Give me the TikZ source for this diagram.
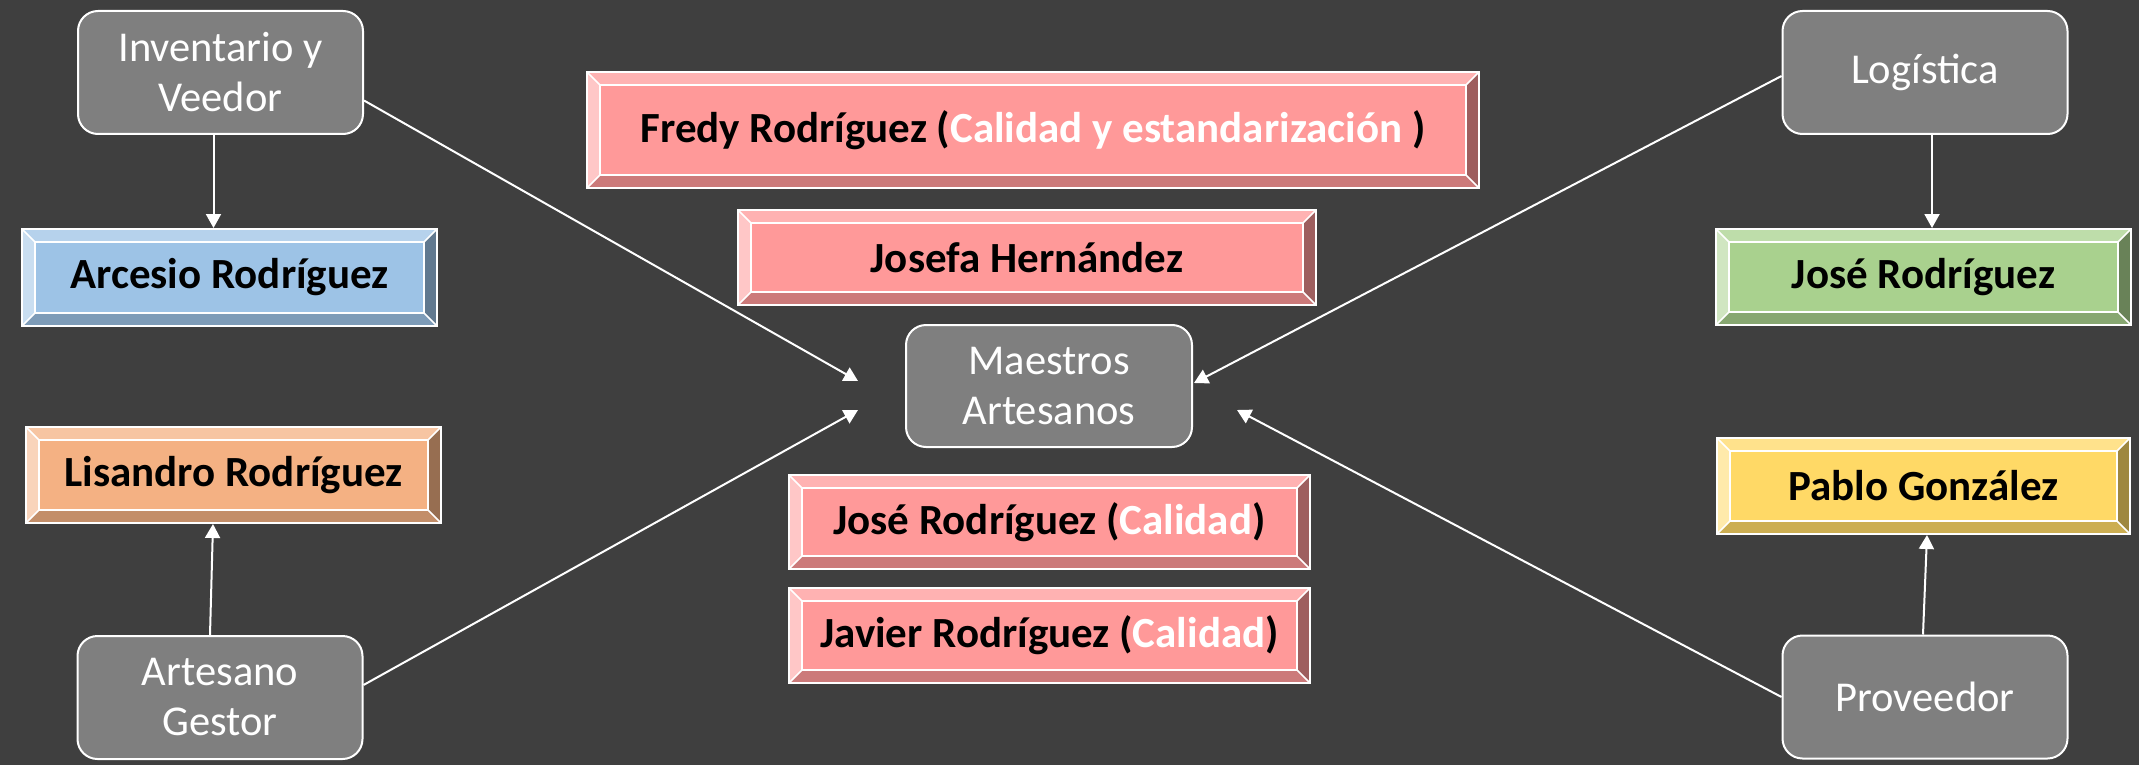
\documentclass[tikz,border=0pt]{standalone}
\usepackage{fontspec}
\setmainfont{Carlito}
\usetikzlibrary{arrows.meta,calc}
\definecolor{bgc}{HTML}{3F3F3F}
\definecolor{grayc}{HTML}{7F7F7F}
\definecolor{pinkc}{HTML}{FF9999}
\definecolor{bluec}{HTML}{9DC3E6}
\definecolor{orangec}{HTML}{F4B183}
\definecolor{greenc}{HTML}{A9D18E}
\definecolor{yellowc}{HTML}{FFD966}
\tikzset{
  graybox/.style={draw=white, line width=2pt, fill=grayc, rounded corners=20pt,
    minimum width=285pt, minimum height=123pt, align=center, text=white,
    font=\fontsize{42.5}{50}\selectfont},
  bev/.style={draw=white, line width=2pt, fill=#1, inner sep=0pt,
    font=\fontsize{43}{50}\selectfont\bfseries,
    path picture={
      \fill[#1!75!white] (path picture bounding box.north west) -- (path picture bounding box.north east)
        -- ([shift={(-13pt,-13pt)}]path picture bounding box.north east)
        -- ([shift={(13pt,-13pt)}]path picture bounding box.north west) -- cycle;
      \fill[#1!55!white] (path picture bounding box.north west) -- (path picture bounding box.south west)
        -- ([shift={(13pt,13pt)}]path picture bounding box.south west)
        -- ([shift={(13pt,-13pt)}]path picture bounding box.north west) -- cycle;
      \fill[#1!62!black] (path picture bounding box.north east) -- (path picture bounding box.south east)
        -- ([shift={(-13pt,13pt)}]path picture bounding box.south east)
        -- ([shift={(-13pt,-13pt)}]path picture bounding box.north east) -- cycle;
      \fill[#1!80!black] (path picture bounding box.south west) -- (path picture bounding box.south east)
        -- ([shift={(-13pt,13pt)}]path picture bounding box.south east)
        -- ([shift={(13pt,13pt)}]path picture bounding box.south west) -- cycle;
      \draw[white, line width=2pt]
        ([shift={(13pt,-13pt)}]path picture bounding box.north west) rectangle
        ([shift={(-13pt,13pt)}]path picture bounding box.south east);
      \draw[white, line width=1.5pt]
        (path picture bounding box.north west) -- ++(13pt,-13pt)
        (path picture bounding box.north east) -- ++(-13pt,-13pt)
        (path picture bounding box.south west) -- ++(13pt,13pt)
        (path picture bounding box.south east) -- ++(-13pt,13pt);
    }},
  conn/.style={draw=white, line width=2pt, -{Triangle[width=15pt,length=14pt]}},
}
\newcommand\wt[1]{\textcolor{white}{#1}}
\begin{document}
\begin{tikzpicture}[x=1pt,y=-1pt]
\fill[bgc] (0,0) rectangle (2139,765);
\useasboundingbox (0,0) rectangle (2139,765);

% gray boxes
\node[graybox] (inv) at (220.5,72.5) {Inventario y\\Veedor};
\node[graybox] (gest) at (220,697.5) {Artesano\\Gestor};
\node[graybox] (log) at (1925,72.5) {Logística};
\node[graybox] (prov) at (1925,697) {Proveedor};
\node[graybox, minimum width=286pt, minimum height=122pt] (maes) at (1049,386) {Maestros\\Artesanos};

% bevel boxes
\node[bev=bluec, minimum width=415pt, minimum height=97pt] (arc) at (229.5,277.5) {Arcesio Rodríguez};
\node[bev=orangec, minimum width=415pt, minimum height=96pt] (lis) at (233.5,475) {Lisandro Rodríguez};
\node[bev=pinkc, minimum width=892pt, minimum height=116pt] (fredy) at (1033,130) {Fredy Rodríguez (\wt{Calidad y estandarización })};
\node[bev=pinkc, minimum width=578pt, minimum height=95pt] (josefa) at (1027,257.5) {Josefa Hernández};
\node[bev=pinkc, minimum width=521pt, minimum height=94pt] (jose) at (1049.5,522) {José Rodríguez (\wt{Calidad})};
\node[bev=pinkc, minimum width=521pt, minimum height=95pt] (javier) at (1049.5,635.5) {Javier Rodríguez (\wt{Calidad})};
\node[bev=greenc, minimum width=415pt, minimum height=96pt] (josg) at (1923.5,277) {José Rodríguez};
\node[bev=yellowc, minimum width=413pt, minimum height=96pt] (pablo) at (1923.5,486) {Pablo González};

% free ends near Maestros
\coordinate (m1) at (858,381);
\coordinate (m2) at (858,410);
\coordinate (m3) at (1194,383);
\coordinate (m4) at (1237,410);

% connectors
\draw[conn] ([xshift=-7pt]inv.south) -- ([xshift=-16pt]arc.north);
\draw[conn] ([xshift=-10pt]gest.north) -- ([xshift=-20.5pt]lis.south);
\draw[conn] ([xshift=7pt]log.south) -- ([xshift=8.5pt]josg.north);
\draw[conn] ([xshift=-2pt]prov.north) -- ([xshift=3.5pt]pablo.south);
\draw[conn] ([yshift=-28pt]inv.east) -- (m1);
\draw[conn] ([yshift=12.5pt]gest.east) -- (m2);
\draw[conn] ([yshift=-3.5pt]log.west) -- (m3);
\draw[conn] (prov.west) -- (m4);
\end{tikzpicture}
\end{document}
